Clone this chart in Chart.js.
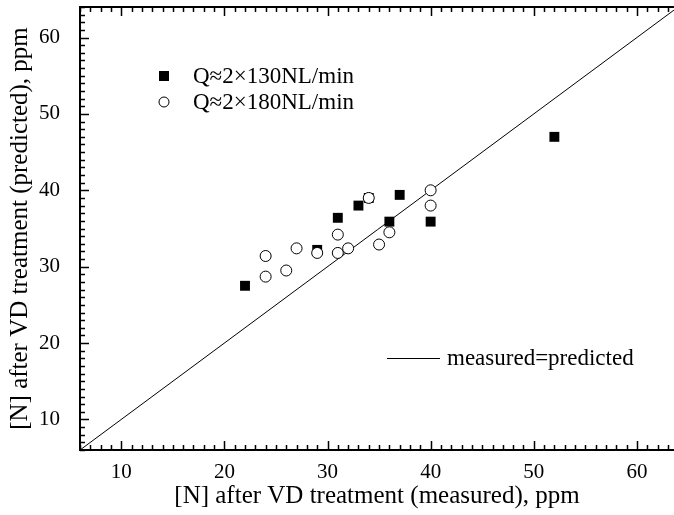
<!DOCTYPE html>
<html>
<head>
<meta charset="utf-8">
<script src="https://cdn.jsdelivr.net/npm/chart.js@4.4.0/dist/chart.umd.min.js"></script>
<style>
body { margin: 0; background: #fff; }
</style>
</head>
<body>
<canvas id="myChart" width="674" height="515"></canvas>
<script>
// Q≈2×130NL/min (filled squares)
let measured130 = [22, 29, 31, 33, 34, 36, 37, 40, 52];
let predicted130 = [27.5, 32.2, 36.4, 38, 39, 35.9, 39.4, 35.9, 47];
// Q≈2×180NL/min (open circles)
let measured180 = [24, 24, 26, 27, 29, 31, 31, 32, 34, 35, 36, 40, 40];
let predicted180 = [31.4, 28.7, 29.5, 32.4, 31.8, 34.2, 31.8, 32.4, 39, 32.9, 34.5, 40, 38];
// measured=predicted line
let lineValues = [6, 64];
let xMin = 6, xMax = 63.6;
let yMin = 6, yMax = 64;
let tickLabels = [10, 20, 30, 40, 50, 60];

const FONT = "'Liberation Serif', 'Times New Roman', serif";

function toPoints(xs, ys) {
    let pts = [];
    for (let i = 0; i < xs.length; i++) {
        pts.push({x: xs[i], y: ys[i]});
    }
    return pts;
}

// frame on left/bottom/top with inward ticks, plus the legend
const framePlugin = {
    id: 'framePlugin',
    afterDraw(chart) {
        const {ctx, chartArea: a, scales: {x, y}} = chart;
        ctx.save();
        ctx.strokeStyle = '#000';
        ctx.lineWidth = 1.5;
        ctx.beginPath();
        for (let v = Math.ceil(xMin); v <= xMax; v++) {
            let len = v % 10 === 0 ? 9 : 5;
            let px = Math.round(x.getPixelForValue(v)) + 0.5;
            ctx.moveTo(px, a.bottom);
            ctx.lineTo(px, a.bottom - len);
            ctx.moveTo(px, a.top);
            ctx.lineTo(px, a.top + len);
        }
        for (let v = Math.ceil(yMin); v <= yMax; v++) {
            let len = v % 10 === 0 ? 9 : 5;
            let py = Math.round(y.getPixelForValue(v)) + 0.5;
            ctx.moveTo(a.left, py);
            ctx.lineTo(a.left + len, py);
        }
        ctx.stroke();

        ctx.lineWidth = 2;
        ctx.beginPath();
        ctx.moveTo(a.right, a.top);
        ctx.lineTo(a.left, a.top);
        ctx.lineTo(a.left, a.bottom);
        ctx.lineTo(a.right, a.bottom);
        ctx.stroke();

        // legend
        ctx.fillStyle = '#000';
        ctx.fillRect(159, 71, 10, 10);
        ctx.lineWidth = 1;
        ctx.beginPath();
        ctx.arc(164, 102, 5, 0, Math.PI * 2);
        ctx.stroke();
        ctx.font = '23px ' + FONT;
        ctx.textBaseline = 'middle';
        ctx.fillText('Q≈2×130NL/min', 193, 77);
        ctx.fillText('Q≈2×180NL/min', 193, 103);

        ctx.beginPath();
        ctx.moveTo(387, 358.5);
        ctx.lineTo(440, 358.5);
        ctx.stroke();
        ctx.fillText('measured=predicted', 447, 359);
        ctx.restore();
    }
};

let ctx = document.getElementById('myChart').getContext('2d');
let myChart = new Chart(ctx, {
    type: 'scatter',
    data: {
        datasets: [{
            label: 'Q≈2×180NL/min',
            data: toPoints(measured180, predicted180),
            pointStyle: 'circle',
            pointRadius: 5.5,
            backgroundColor: '#fff',
            borderColor: '#000',
            borderWidth: 1,
            order: 0
        }, {
            label: 'Q≈2×130NL/min',
            data: toPoints(measured130, predicted130),
            pointStyle: 'rect',
            pointRadius: 7,
            backgroundColor: '#000',
            borderColor: '#000',
            borderWidth: 0,
            order: 1
        }, {
            label: 'measured=predicted',
            data: toPoints(lineValues, lineValues),
            showLine: true,
            pointRadius: 0,
            borderColor: '#000',
            borderWidth: 1,
            order: 2
        }]
    },
    options: {
        responsive: false,
        animation: false,
        devicePixelRatio: 1,
        layout: { autoPadding: false, padding: { top: 7, right: 0, left: 0, bottom: 0 } },
        plugins: {
            legend: { display: false },
            tooltip: { enabled: false }
        },
        scales: {
            x: {
                type: 'linear',
                min: xMin,
                max: xMax,
                afterFit(scale) {
                    scale.height = 65;
                    scale.paddingLeft = 0;
                    scale.paddingRight = 0;
                },
                afterBuildTicks(scale) {
                    scale.ticks = tickLabels.map(v => ({value: v}));
                },
                grid: { display: false },
                border: { display: false },
                ticks: {
                    autoSkip: false,
                    maxRotation: 0,
                    padding: 2,
                    color: '#000',
                    font: { family: FONT, size: 21 }
                },
                title: {
                    display: true,
                    text: '[N] after VD treatment (measured), ppm',
                    color: '#000',
                    padding: { top: 0, bottom: 4 },
                    font: { family: FONT, size: 25 }
                }
            },
            y: {
                type: 'linear',
                min: yMin,
                max: yMax,
                afterFit(scale) {
                    scale.width = 80;
                    scale.paddingTop = 0;
                    scale.paddingBottom = 0;
                },
                afterBuildTicks(scale) {
                    scale.ticks = tickLabels.map(v => ({value: v}));
                },
                grid: { display: false },
                border: { display: false },
                ticks: {
                    autoSkip: false,
                    padding: 12,
                    color: '#000',
                    font: { family: FONT, size: 21 }
                },
                title: {
                    display: true,
                    text: '[N] after VD treatment (predicted), ppm',
                    color: '#000',
                    padding: { top: 5, bottom: 0 },
                    font: { family: FONT, size: 25 }
                }
            }
        }
    },
    plugins: [framePlugin]
});
</script>
</body>
</html>
